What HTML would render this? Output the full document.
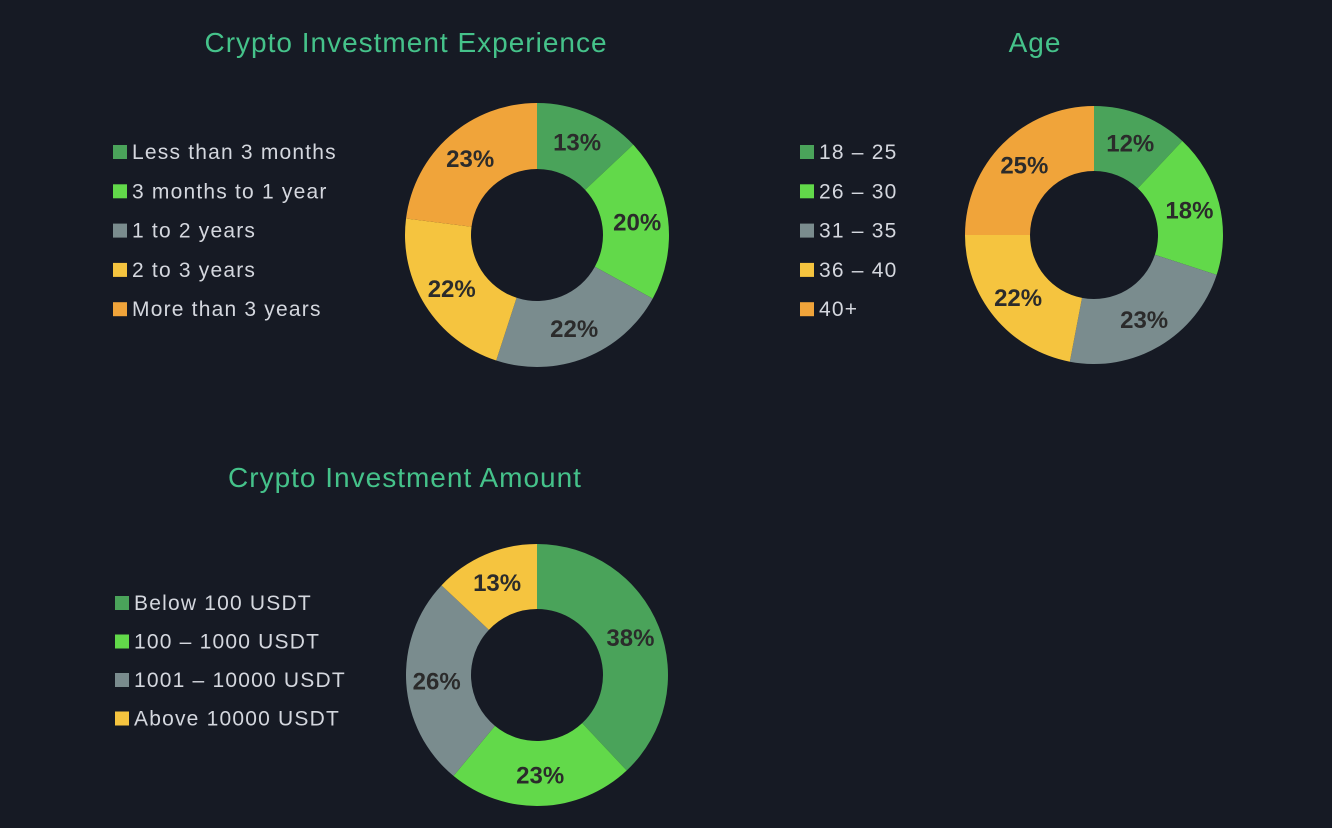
<!DOCTYPE html>
<html><head><meta charset="utf-8"><style>
html,body{margin:0;padding:0;background:#161a24;width:1332px;height:828px;overflow:hidden;font-family:"Liberation Sans",sans-serif}
</style></head><body>
<svg id="s" width="1332" height="828" xmlns="http://www.w3.org/2000/svg"></svg>
<script>
const expCats=["Less than 3 months","3 months to 1 year","1 to 2 years","2 to 3 years","More than 3 years"];
const expVals=[13,20,22,22,23];
const expColors=["#4aa35a","#62d94a","#7a8c8e","#f5c43f","#f0a43a"];
const ageCats=["18 – 25","26 – 30","31 – 35","36 – 40","40+"];
const ageVals=[12,18,23,22,25];
const ageColors=["#4aa35a","#62d94a","#7a8c8e","#f5c43f","#f0a43a"];
const amtCats=["Below 100 USDT","100 – 1000 USDT","1001 – 10000 USDT","Above  10000 USDT"];
const amtVals=[38,23,26,13];
const amtColors=["#4aa35a","#62d94a","#7a8c8e","#f5c43f"];

const NS="http://www.w3.org/2000/svg";
const svg=document.getElementById('s');
function mk(tag,attrs,parent){const e=document.createElementNS(NS,tag);for(const k in attrs)e.setAttribute(k,attrs[k]);(parent||svg).appendChild(e);return e;}

function chart(key,title,tx,ty,cats,vals,colors,cx,cy,R,r,lx,ly,lstep){
  const g=mk('g',{});
  
  
  const t=mk('text',{x:tx,y:ty,'text-anchor':'middle','font-size':28,'letter-spacing':1,fill:'#45c28a'},g);
  t.textContent=title;
  
  
  const total=vals.reduce((a,b)=>a+b,0);
  let a0=-Math.PI/2;
  vals.forEach((v,i)=>{
    const a1=a0+v/total*2*Math.PI;
    const large=(a1-a0)>Math.PI?1:0;
    const p=(a,rad)=>[cx+rad*Math.cos(a),cy+rad*Math.sin(a)];
    const [x0,y0]=p(a0,R),[x1,y1]=p(a1,R),[x2,y2]=p(a1,r),[x3,y3]=p(a0,r);
    const path=mk('path',{d:`M${x0},${y0}A${R},${R} 0 ${large} 1 ${x1},${y1}L${x2},${y2}A${r},${r} 0 ${large} 0 ${x3},${y3}Z`,fill:colors[i]},g);
    
    
    const am=(a0+a1)/2,lr=(R+r)/2+2;
    const lab=mk('text',{x:cx+lr*Math.cos(am),y:cy+lr*Math.sin(am)+8,'text-anchor':'middle','font-size':24,'font-weight':'bold',fill:'#2b2b2b'},g);
    lab.textContent=v+'%';
    
    
    a0=a1;
  });
  cats.forEach((c,i)=>{
    const y=ly+i*lstep;
    const lg=mk('g',{},g);
    
    
    mk('rect',{x:lx,y:y-7,width:14,height:14,fill:colors[i]},lg);
    const tt=mk('text',{x:lx+19,y:y+7,'font-size':21,'letter-spacing':1.2,fill:'#d4d7de'},lg);
    tt.textContent=c;
  });
}
chart('experience','Crypto Investment Experience',406,52,expCats,expVals,expColors,537,235,132,66,113,152,39.3);
chart('age','Age',1035,52,ageCats,ageVals,ageColors,1094,235,129,64,800,152,39.3);
chart('amount','Crypto Investment Amount',405,487,amtCats,amtVals,amtColors,537,675,131,66,115,603,38.5);
</script>
</body></html>
